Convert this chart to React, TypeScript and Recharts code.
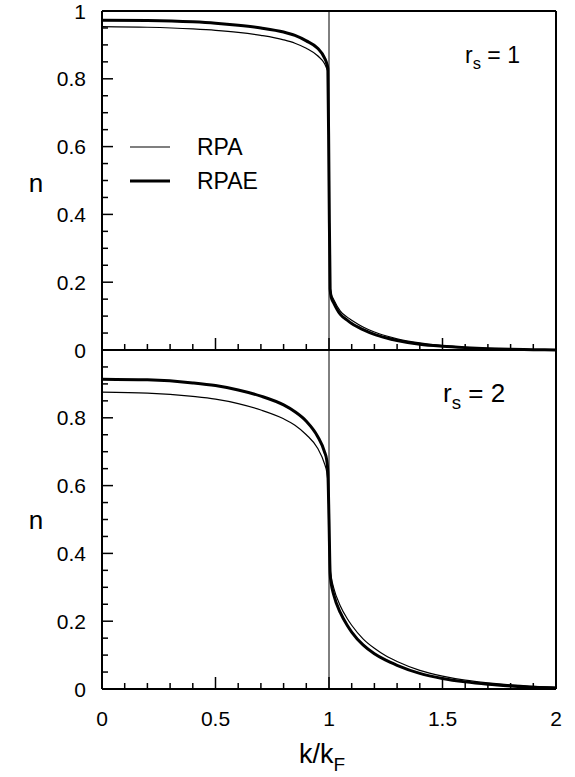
import React from "react";
import { LineChart, Line, XAxis, YAxis, ReferenceLine } from "recharts";

// k / k_F sample points (dense near the Fermi surface)
const K = [
  0, 0.2, 0.4, 0.5, 0.6, 0.7, 0.8, 0.85, 0.9, 0.95, 0.98, 0.99, 0.995, 1.0,
  1.005, 1.01, 1.02, 1.05, 1.08, 1.1, 1.15, 1.2, 1.25, 1.3, 1.4, 1.5, 1.6,
  1.7, 1.8, 1.9, 2.0,
];

// r_s = 1
const RPA_RS1 = [
  0.954, 0.952, 0.947, 0.943, 0.937, 0.928, 0.915, 0.905, 0.89, 0.868, 0.845,
  0.83, 0.82, 0.5, 0.19, 0.165, 0.15, 0.115, 0.097, 0.088, 0.068, 0.053,
  0.042, 0.033, 0.021, 0.013, 0.008, 0.005, 0.003, 0.001, 0,
];
const RPAE_RS1 = [
  0.973, 0.972, 0.968, 0.964, 0.958, 0.95, 0.938, 0.928, 0.912, 0.89, 0.862,
  0.845, 0.83, 0.5, 0.18, 0.155, 0.14, 0.105, 0.088, 0.078, 0.06, 0.046,
  0.036, 0.028, 0.017, 0.011, 0.007, 0.004, 0.002, 0.001, 0,
];

// r_s = 2
const RPA_RS2 = [
  0.876, 0.873, 0.863, 0.855, 0.842, 0.823, 0.797, 0.778, 0.75, 0.71, 0.665,
  0.64, 0.61, 0.5, 0.36, 0.33, 0.3, 0.245, 0.208, 0.188, 0.148, 0.12, 0.098,
  0.081, 0.055, 0.038, 0.026, 0.018, 0.012, 0.008, 0.005,
];
const RPAE_RS2 = [
  0.914, 0.912, 0.903, 0.895, 0.882, 0.864, 0.838, 0.818, 0.79, 0.745, 0.7,
  0.675, 0.64, 0.5, 0.34, 0.31, 0.28, 0.225, 0.188, 0.168, 0.13, 0.104, 0.085,
  0.07, 0.046, 0.031, 0.021, 0.014, 0.009, 0.005, 0.003,
];

const Y_TICKS = [
  0, 0.05, 0.1, 0.15, 0.2, 0.25, 0.3, 0.35, 0.4, 0.45, 0.5, 0.55, 0.6, 0.65,
  0.7, 0.75, 0.8, 0.85, 0.9, 0.95, 1,
];
const Y_LABELS_TOP = ["0", "0.2", "0.4", "0.6", "0.8", "1"];
const Y_LABELS_BOTTOM = ["0", "0.2", "0.4", "0.6", "0.8"];
const X_TICKS = [
  0, 0.1, 0.2, 0.3, 0.4, 0.5, 0.6, 0.7, 0.8, 0.9, 1, 1.1, 1.2, 1.3, 1.4, 1.5,
  1.6, 1.7, 1.8, 1.9, 2,
];
const X_LABELS = ["0", "0.5", "1", "1.5", "2"];

const top = K.map((k, i) => ({ k, rpa: RPA_RS1[i], rpae: RPAE_RS1[i] }));
const bottom = K.map((k, i) => ({ k, rpa: RPA_RS2[i], rpae: RPAE_RS2[i] }));

const FONT = "'Liberation Sans', Arial, Helvetica, sans-serif";
const PLOT_LEFT = 102;

const fmt = (v: number) => String(Math.round(v * 100) / 100);

function makeYTick(labels: string[]) {
  return (props: any) => {
    const { y, payload } = props;
    const label = fmt(payload.value);
    const major = labels.includes(label);
    return (
      <g>
        <line
          x1={PLOT_LEFT}
          x2={PLOT_LEFT + (major ? 11 : 6)}
          y1={y}
          y2={y}
          stroke="#000"
          strokeWidth={1.5}
        />
        {major && (
          <text
            x={PLOT_LEFT - 16}
            y={y}
            textAnchor="end"
            dominantBaseline="central"
            fontSize={21}
            fontFamily={FONT}
            fill="#000"
          >
            {label}
          </text>
        )}
      </g>
    );
  };
}

function makeXTick(axisY: number, showLabels: boolean) {
  return (props: any) => {
    const { x, payload } = props;
    const label = fmt(payload.value);
    const major = X_LABELS.includes(label);
    return (
      <g>
        <line
          x1={x}
          x2={x}
          y1={axisY}
          y2={axisY - (major ? 12 : 6)}
          stroke="#000"
          strokeWidth={1.5}
        />
        {showLabels && major && (
          <text
            x={x}
            y={axisY + 29}
            textAnchor="middle"
            dominantBaseline="central"
            fontSize={21}
            fontFamily={FONT}
            fill="#000"
          >
            {label}
          </text>
        )}
      </g>
    );
  };
}

const nLabel = (y: number) => () =>
  (
    <text
      x={36}
      y={y}
      textAnchor="middle"
      dominantBaseline="central"
      fontSize={26}
      fontFamily={FONT}
      fill="#000"
    >
      n
    </text>
  );

const xLabel = () => (
  <text x={322} y={423} textAnchor="middle" fontSize={27} fontFamily={FONT} fill="#000">
    k/k
    <tspan fontSize={19} dy={8}>
      F
    </tspan>
  </text>
);

// legend drawn as an overlay so it does not take space from the plot
const legend = (
  <div
    style={{
      position: "absolute",
      left: 128,
      top: 130,
      fontFamily: FONT,
      fontSize: 23,
      lineHeight: "34px",
      color: "#000",
    }}
  >
    <div style={{ display: "flex", alignItems: "center" }}>
      <svg width={42} height={34}>
        <line x1={2} x2={42} y1={17} y2={17} stroke="#000" strokeWidth={1.2} />
      </svg>
      <span style={{ marginLeft: 27 }}>RPA</span>
    </div>
    <div style={{ display: "flex", alignItems: "center" }}>
      <svg width={42} height={34}>
        <line x1={2} x2={42} y1={17} y2={17} stroke="#000" strokeWidth={3} />
      </svg>
      <span style={{ marginLeft: 27 }}>RPAE</span>
    </div>
  </div>
);

const rsLabel = (left: number, topPx: number, value: string, size: number) => (
  <div
    style={{
      position: "absolute",
      left,
      top: topPx,
      fontFamily: FONT,
      fontSize: size,
      lineHeight: 1,
      color: "#000",
      whiteSpace: "nowrap",
    }}
  >
    r<sub style={{ fontSize: size * 0.72, verticalAlign: "-0.35em" }}>s</sub> = {value}
  </div>
);

export default function App() {
  return (
    <div
      style={{
        position: "absolute",
        left: 0,
        top: 0,
        width: 575,
        height: 777,
        background: "#fff",
      }}
    >
      <div style={{ position: "absolute", left: 0, top: 340 }}>
        <LineChart
          width={575}
          height={437}
          data={bottom}
          margin={{ top: 10, right: 19, bottom: 0, left: 52 }}
        >
          <XAxis
            dataKey="k"
            type="number"
            domain={[0, 2]}
            ticks={X_TICKS}
            interval={0}
            height={88}
            tickLine={false}
            axisLine={{ stroke: "#000", strokeWidth: 2 }}
            tick={makeXTick(349, true)}
            label={{ content: xLabel }}
          />
          <YAxis
            type="number"
            domain={[0, 1]}
            ticks={Y_TICKS}
            interval={0}
            width={50}
            tickLine={false}
            axisLine={{ stroke: "#000", strokeWidth: 2 }}
            tick={makeYTick(Y_LABELS_BOTTOM)}
            label={{ content: nLabel(180) }}
          />
          <ReferenceLine x={2} stroke="#000" strokeWidth={2} />
          <ReferenceLine x={1} stroke="#000" strokeWidth={1} />
          <Line
            dataKey="rpa"
            type="monotone"
            stroke="#000"
            strokeWidth={1.2}
            dot={false}
            isAnimationActive={false}
          />
          <Line
            dataKey="rpae"
            type="monotone"
            stroke="#000"
            strokeWidth={3}
            dot={false}
            isAnimationActive={false}
          />
        </LineChart>
      </div>

      <div style={{ position: "absolute", left: 0, top: 0 }}>
        <LineChart
          width={575}
          height={360}
          data={top}
          margin={{ top: 11, right: 19, bottom: 0, left: 52 }}
        >
          <XAxis
            dataKey="k"
            type="number"
            domain={[0, 2]}
            ticks={X_TICKS}
            interval={0}
            height={10}
            tickLine={false}
            axisLine={{ stroke: "#000", strokeWidth: 2 }}
            tick={makeXTick(350, false)}
          />
          <YAxis
            type="number"
            domain={[0, 1]}
            ticks={Y_TICKS}
            interval={0}
            width={50}
            tickLine={false}
            axisLine={{ stroke: "#000", strokeWidth: 2 }}
            tick={makeYTick(Y_LABELS_TOP)}
            label={{ content: nLabel(183) }}
          />
          <ReferenceLine y={1} stroke="#000" strokeWidth={2} />
          <ReferenceLine x={2} stroke="#000" strokeWidth={2} />
          <ReferenceLine x={1} stroke="#000" strokeWidth={1} />
          <Line
            dataKey="rpa"
            type="monotone"
            stroke="#000"
            strokeWidth={1.2}
            dot={false}
            isAnimationActive={false}
          />
          <Line
            dataKey="rpae"
            type="monotone"
            stroke="#000"
            strokeWidth={3}
            dot={false}
            isAnimationActive={false}
          />
        </LineChart>
      </div>

      {legend}
      {rsLabel(465, 44, "1", 23)}
      {rsLabel(443, 380, "2", 26)}
    </div>
  );
}
